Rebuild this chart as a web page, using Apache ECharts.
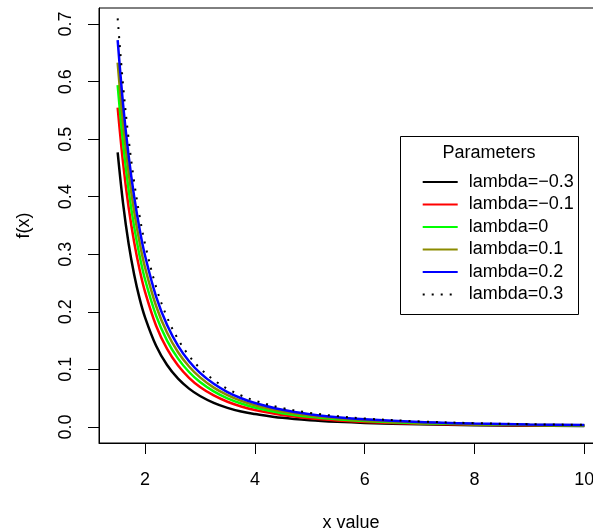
<!DOCTYPE html>
<html>
<head>
<meta charset="utf-8">
<script src="https://cdn.jsdelivr.net/npm/echarts@6/dist/echarts.min.js"></script>
<style>
html,body{margin:0;padding:0;background:#ffffff;}
#chart{width:593px;height:532px;}
</style>
</head>
<body>
<div id="chart"></div>
<script>
// x positions where the curves were read
const xValues = [1.5,1.6,1.7,1.8,1.9,2.0,2.2,2.4,2.6,2.8,3.0,3.25,3.5,3.75,4.0,4.5,5.0,5.5,6,7,8,9,10];

// f(x) for each lambda
const lambdaNeg03 = [0.477,0.387,0.318,0.265,0.223,0.190,0.141,0.1075,0.0838,0.0665,0.0537,0.0418,0.0331,0.0266,0.0225,0.0157,0.0115,0.0088,0.0069,0.0044,0.0030,0.0021,0.0015];
const lambdaNeg01 = [0.555,0.4573,0.3813,0.3212,0.2731,0.2342,0.1759,0.1355,0.1066,0.0853,0.0694,0.0546,0.0437,0.0355,0.0293,0.0206,0.0150,0.0113,0.0087,0.0055,0.0037,0.0026,0.0019];
const lambda0    = [0.594,0.4917,0.4116,0.3481,0.2972,0.2557,0.1934,0.1499,0.1186,0.0954,0.0779,0.0617,0.0496,0.0406,0.0336,0.0238,0.0175,0.0132,0.0102,0.0065,0.0044,0.0031,0.0023];
const lambda01   = [0.633,0.5256,0.4414,0.3744,0.3204,0.2764,0.2101,0.1635,0.1298,0.1049,0.0860,0.0683,0.0552,0.0452,0.0376,0.0267,0.0197,0.0150,0.0117,0.0075,0.0051,0.0036,0.0027];
const lambda02   = [0.672,0.5594,0.4709,0.4004,0.3434,0.2969,0.2265,0.1769,0.1409,0.1142,0.0939,0.0748,0.0606,0.0498,0.0415,0.0297,0.0220,0.0168,0.0131,0.0085,0.0058,0.0041,0.0031];
const lambda03   = [0.710,0.5926,0.5001,0.4261,0.3663,0.3173,0.2430,0.1904,0.1522,0.1237,0.1020,0.0815,0.0662,0.0546,0.0456,0.0328,0.0244,0.0187,0.0146,0.0095,0.0065,0.0047,0.0035];

const seriesNames = ['lambda=\u22120.3','lambda=\u22120.1','lambda=0','lambda=0.1','lambda=0.2','lambda=0.3'];
const seriesValues = [lambdaNeg03, lambdaNeg01, lambda0, lambda01, lambda02, lambda03];
const seriesColors = ['#000000','#ff0000','#00ff00','#8b8b00','#0000ff','#000000'];

const xTicks = [2,4,6,8,10];
const xTickLabels = ['2','4','6','8','10'];
const yTicks = [0,0.1,0.2,0.3,0.4,0.5,0.6,0.7];
const yTickLabels = ['0.0','0.1','0.2','0.3','0.4','0.5','0.6','0.7'];

const FONT = "'Liberation Sans', Arial, Helvetica, sans-serif";

function labelFor(ticks, labels, v) {
  const i = ticks.findIndex(t => Math.abs(t - v) < 1e-9);
  return i >= 0 ? labels[i] : '';
}

const series = seriesNames.map((name, k) => {
  const dotted = k === 5;
  return {
    name: name,
    type: 'line',
    data: xValues.map((x, i) => [x, seriesValues[k][i]]),
    symbol: 'none',
    showSymbol: false,
    smooth: 0.35,
    clip: true,
    z: 2 + k,
    lineStyle: dotted
      ? { color: seriesColors[k], width: 2, type: [2, 7], cap: 'butt' }
      : { color: seriesColors[k], width: 2.5, type: 'solid' },
    itemStyle: { color: seriesColors[k] },
    emphasis: { disabled: true }
  };
});

const chart = echarts.init(document.getElementById('chart'), null, { renderer: 'canvas' });
chart.setOption({
  animation: false,
  backgroundColor: '#ffffff',
  textStyle: { fontFamily: FONT, color: '#000' },
  grid: {
    left: 99, top: 8, width: 504, bottom: 89,
    outerBoundsMode: 'none',
    show: true, borderColor: '#000', borderWidth: 1, backgroundColor: 'transparent',
    containLabel: false
  },
  xAxis: {
    type: 'value',
    min: 1.16, max: 10.34,
    name: 'x value',
    nameLocation: 'middle',
    nameGap: 71,
    nameTextStyle: { fontSize: 18, color: '#000', fontFamily: FONT },
    axisLine: { show: true, onZero: false, lineStyle: { color: '#000', width: 1 } },
    axisTick: { show: true, length: 11, customValues: xTicks, lineStyle: { color: '#000', width: 1 } },
    axisLabel: { show: true, customValues: xTicks, margin: 28, fontSize: 18, color: '#000', fontFamily: FONT,
      hideOverlap: false, showMaxLabel: true,
      formatter: v => labelFor(xTicks, xTickLabels, v) },
    splitLine: { show: false }
  },
  yAxis: {
    type: 'value',
    min: -0.028, max: 0.728,
    name: 'f(x)',
    nameLocation: 'middle',
    nameRotate: 90,
    nameGap: 66,
    nameTextStyle: { fontSize: 18, color: '#000', fontFamily: FONT },
    axisLine: { show: true, onZero: false, lineStyle: { color: '#000', width: 1 } },
    axisTick: { show: true, length: 11, customValues: yTicks, lineStyle: { color: '#000', width: 1 } },
    axisLabel: { show: true, customValues: yTicks, rotate: 90, margin: 24, fontSize: 18, color: '#000', fontFamily: FONT,
      formatter: v => labelFor(yTicks, yTickLabels, v) },
    splitLine: { show: false }
  },
  legend: {
    show: true,
    orient: 'vertical',
    left: 416.7,
    top: 168,
    itemWidth: 35,
    itemHeight: 14,
    itemGap: 4.5,
    selectedMode: false,
    data: seriesNames,
    itemStyle: { opacity: 0, borderWidth: 0 },
    textStyle: { fontSize: 18, color: '#000', fontFamily: FONT, lineHeight: 18, padding: [0, 0, 0, 6] },
    z: 10
  },
  graphic: [
    {
      type: 'rect', z: 8,
      shape: { x: 400.5, y: 136.5, width: 178, height: 178 },
      style: { fill: '#ffffff', stroke: '#000000', lineWidth: 1 }
    },
    {
      type: 'text', z: 11,
      x: 489, y: 153.5,
      style: { text: 'Parameters', fill: '#000', font: "18px 'Liberation Sans', Arial, sans-serif", textAlign: 'center', textVerticalAlign: 'middle' }
    }
  ],
  series: series
});
</script>
</body>
</html>
